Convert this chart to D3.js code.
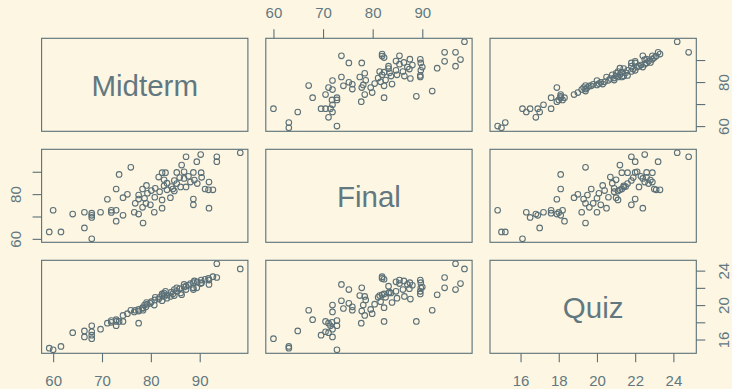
<!DOCTYPE html>
<html>
<head>
<meta charset="utf-8">
<script src="https://cdn.jsdelivr.net/npm/d3@7"></script>
<style>
	html, body { margin: 0; padding: 0; background: #fdf6e3; }
	svg { display: block; font-family: 'Liberation Sans', Arial, sans-serif; }
</style>
</head>
<body>
<div class="chart"></div>
<script>
const varNames = [ 'Midterm', 'Final', 'Quiz' ];

const midterm = [
	59.2, 61.6, 60.0, 64.0, 66.4, 66.4, 67.9, 67.9, 67.9, 67.9,
	69.7, 71.1, 71.9, 71.9, 72.9, 72.9, 72.9, 73.5, 74.3, 74.3,
	75.2, 75.9, 76.6, 76.8, 77.5, 77.5, 77.5, 78.4, 78.3, 78.3,
	78.7, 79.0, 79.1, 79.3, 79.9, 80.1, 80.7, 80.8, 80.9, 81.6,
	81.8, 82.3, 82.3, 82.3, 82.7, 82.7, 83.0, 83.3, 83.3, 84.0,
	84.2, 84.5, 84.8, 84.8, 85.3, 85.3, 85.9, 86.1, 86.3, 86.8,
	86.8, 87.2, 87.2, 87.7, 88.1, 88.7, 88.9, 88.7, 88.7, 89.4,
	89.5, 90.2, 90.3, 90.4, 91.1, 91.8, 92.7, 91.9, 91.9, 93.5,
	93.5, 98.3
];
const final = [
	63.1, 63.1, 72.8, 71.1, 71.9, 64.9, 60.0, 71.5, 70.5, 69.6,
	71.9, 77.7, 72.8, 71.8, 72.8, 67.9, 82.3, 88.8, 78.4, 70.5,
	79.9, 92.0, 71.9, 75.9, 71.1, 79.6, 77.8, 67.1, 82.3, 74.1,
	78.1, 75.9, 83.9, 80.4, 75.2, 81.6, 71.9, 78.6, 82.6, 87.6,
	81.1, 89.6, 73.7, 77.4, 86.4, 83.7, 89.6, 81.9, 84.9, 78.4,
	83.4, 82.3, 86.1, 81.4, 89.7, 84.7, 87.4, 83.2, 93.0, 90.0,
	87.0, 96.7, 83.2, 88.0, 85.4, 89.7, 86.3, 77.8, 75.2, 94.5,
	84.7, 97.7, 89.6, 87.5, 82.3, 81.9, 81.9, 85.4, 73.7, 96.7,
	94.5, 98.5
];
const quiz = [
	15.0, 15.2, 14.8, 16.8, 16.3, 17.0, 16.1, 17.6, 16.9, 16.5,
	17.2, 17.9, 18.2, 18.0, 17.6, 18.3, 18.1, 18.1, 18.8, 18.1,
	19.0, 19.4, 19.2, 19.4, 17.9, 19.5, 19.3, 19.4, 19.7, 19.6,
	20.0, 19.8, 20.3, 20.1, 20.2, 20.4, 20.0, 20.6, 20.9, 20.7,
	20.9, 21.3, 20.5, 21.1, 21.0, 21.4, 21.6, 21.2, 20.8, 21.0,
	21.5, 21.3, 21.8, 21.1, 22.0, 21.6, 21.9, 21.4, 21.2, 22.1,
	22.4, 21.8, 22.2, 22.3, 22.5, 22.6, 22.8, 22.0, 21.8, 22.0,
	22.7, 22.5, 22.9, 22.6, 23.0, 23.1, 23.3, 22.9, 22.4, 24.8,
	23.2, 24.2
];

// tick values per variable, and which ones get a label on the rotated (vertical) axes
const midtermTicks = [ 60, 70, 80, 90 ];
const finalTicks = [ 60, 70, 80, 90 ];
const quizTicks = [ 16, 18, 20, 22, 24 ];
const midtermSideLabels = [ 60, 80 ];
const finalSideLabels = [ 60, 80 ];
const quizSideLabels = [ 16, 20, 24 ];

const columns = [ midterm, final, quiz ];
const ticks = [ midtermTicks, finalTicks, quizTicks ];
const sideLabels = [ midtermSideLabels, finalSideLabels, quizSideLabels ];

const width = 732;
const height = 389;
const colX = [ 41.6, 265.8, 490.0 ];
const rowY = [ 38.3, 149.3, 260.3 ];
const pw = 206.3;
const ph = 93;
const ink = '#5b7077';
const textInk = '#627880';
const tickLen = 9;

const svg = d3
	.select('.chart')
	.append('svg')
	.attr('width', width)
	.attr('height', height);

svg.append('rect').attr('width', width).attr('height', height).attr('fill', '#fdf6e3');

// R style range: data extent +- 4%
function paddedDomain(values) {
	const [ lo, hi ] = d3.extent(values);
	const r = hi - lo;
	return [ lo - r * 0.04, hi + r * 0.04 ];
}

const xs = columns.map((v, j) => d3.scaleLinear().domain(paddedDomain(v)).range([ colX[j], colX[j] + pw ]));
const ys = columns.map((v, i) => d3.scaleLinear().domain(paddedDomain(v)).range([ rowY[i] + ph, rowY[i] ]));

const n = midterm.length;
const idx = d3.range(n);

for (let i = 0; i < 3; i++) {
	for (let j = 0; j < 3; j++) {
		const panel = svg.append('g').attr('class', 'panel');
		panel
			.append('rect')
			.attr('x', colX[j])
			.attr('y', rowY[i])
			.attr('width', pw)
			.attr('height', ph)
			.attr('fill', 'none')
			.attr('stroke', ink)
			.attr('stroke-width', 1.1);

		if (i === j) {
			panel
				.append('text')
				.attr('x', colX[j] + pw / 2)
				.attr('y', rowY[i] + ph / 2)
				.attr('dy', '0.37em')
				.attr('text-anchor', 'middle')
				.attr('fill', textInk)
				.style('font-size', '29.5px')
				.text(varNames[i]);
			continue;
		}

		panel
			.selectAll('circle')
			.data(idx)
			.enter()
			.append('circle')
			.attr('cx', (k) => xs[j](columns[j][k]))
			.attr('cy', (k) => ys[i](columns[i][k]))
			.attr('r', 2.8)
			.attr('fill', 'none')
			.attr('stroke', ink)
			.attr('stroke-width', 1.1);
	}
}

function styleAxis(g) {
	g.select('.domain').remove();
	g.selectAll('line').attr('stroke', ink).attr('stroke-width', 1.1);
	g.selectAll('text').attr('fill', textInk).style('font-size', '15px').attr('dy', 0);
}

// horizontal axes: top for even columns, bottom for odd ones (as pairs() does)
for (let j = 0; j < 3; j++) {
	if (j % 2 === 1) {
		svg
			.append('g')
			.attr('transform', 'translate(0,' + rowY[0] + ')')
			.call(d3.axisTop(xs[j]).tickValues(ticks[j]).tickSize(tickLen).tickSizeOuter(0))
			.call(styleAxis)
			.call((g) => g.selectAll('text').attr('y', -20.6));
	} else {
		svg
			.append('g')
			.attr('transform', 'translate(0,' + (rowY[2] + ph) + ')')
			.call(d3.axisBottom(xs[j]).tickValues(ticks[j]).tickSize(tickLen).tickSizeOuter(0))
			.call(styleAxis)
			.call((g) => g.selectAll('text').attr('y', 32.7));
	}
}

// vertical axes with rotated labels
for (let i = 0; i < 3; i++) {
	const shown = sideLabels[i];
	const fmt = (d) => (shown.includes(d) ? d : '');
	if (i % 2 === 1) {
		svg
			.append('g')
			.attr('transform', 'translate(' + colX[0] + ',0)')
			.call(d3.axisLeft(ys[i]).tickValues(ticks[i]).tickFormat(fmt).tickSize(tickLen).tickSizeOuter(0))
			.call(styleAxis)
			.call((g) =>
				g
					.selectAll('text')
					.attr('transform', 'rotate(-90)')
					.attr('x', 0)
					.attr('y', -20.8)
					.attr('text-anchor', 'middle'),
			);
	} else {
		svg
			.append('g')
			.attr('transform', 'translate(' + (colX[2] + pw) + ',0)')
			.call(d3.axisRight(ys[i]).tickValues(ticks[i]).tickFormat(fmt).tickSize(tickLen).tickSizeOuter(0))
			.call(styleAxis)
			.call((g) =>
				g
					.selectAll('text')
					.attr('transform', 'rotate(-90)')
					.attr('x', 0)
					.attr('y', 32.8)
					.attr('text-anchor', 'middle'),
			);
	}
}
</script>
</body>
</html>
